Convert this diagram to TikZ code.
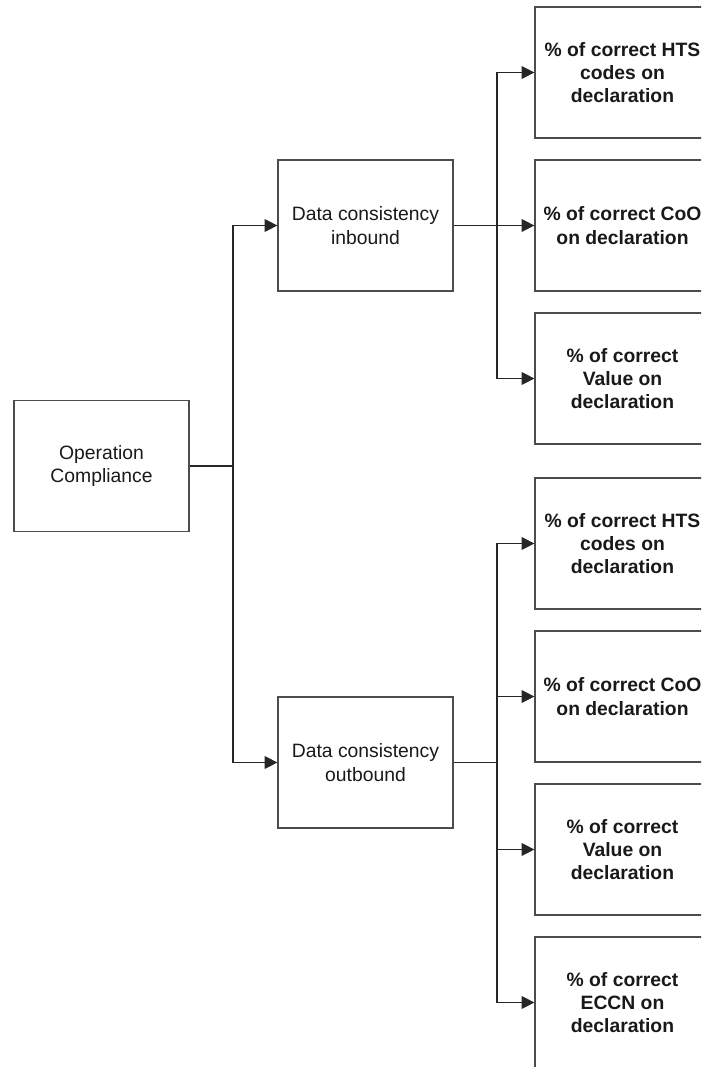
\documentclass[tikz,border=0pt]{standalone}
\usepackage{fontspec}
\setmainfont{Liberation Sans}
\usetikzlibrary{arrows.meta}

\begin{document}
\begin{tikzpicture}[x=0.75pt,y=-0.75pt,
  every node/.style={font=\fontsize{14.5}{17.5}\selectfont,text=black!90},
  box/.style={draw=black!70,line width=0.9pt,minimum width=131.25pt,
    minimum height=98.25pt,align=center,inner sep=0pt},
  kpi/.style={box,font=\fontsize{14.5}{17.5}\selectfont\bfseries},
  link/.style={draw=black!85,line width=0.9pt},
  arr/.style={link,-{Triangle[length=9.5pt,width=9.5pt]}}]
  \useasboundingbox (0,0) rectangle (701,1067);
  \clip (0,0) rectangle (701,1067);

  % Root and the two branches
  \node[box] (op) at (101.5,466) {Operation\\Compliance};
  \node[box] (inb) at (365.5,225.5) {Data consistency\\inbound};
  \node[box] (outb) at (365.5,762.5) {Data consistency\\outbound};

  % Inbound measures
  \node[kpi] (hts1) at (622.5,72.5) {\% of correct HTS\\codes on\\declaration};
  \node[kpi] (coo1) at (622.5,225.5) {\% of correct CoO\\on declaration};
  \node[kpi] (val1) at (622.5,378.5) {\% of correct\\Value on\\declaration};

  % Outbound measures
  \node[kpi] (hts2) at (622.5,543.5) {\% of correct HTS\\codes on\\declaration};
  \node[kpi] (coo2) at (622.5,696.5) {\% of correct CoO\\on declaration};
  \node[kpi] (val2) at (622.5,849.5) {\% of correct\\Value on\\declaration};
  \node[kpi] (eccn2) at (622.5,1002.5) {\% of correct\\ECCN on\\declaration};

  % Junctions on the vertical trunks
  \coordinate (jop) at (233,466);
  \coordinate (jin) at (497,225.5);
  \coordinate (jout) at (497,762.5);

  \draw[link] (op.east) -- (jop);
  \draw[arr] (jop) |- (inb.west);
  \draw[arr] (jop) |- (outb.west);

  \draw[arr] (inb.east) -- (coo1.west);
  \draw[arr] (jin) |- (hts1.west);
  \draw[arr] (jin) |- (val1.west);

  \draw[link] (outb.east) -- (jout);
  \draw[arr] (jout) |- (hts2.west);
  \draw[arr] (jout) |- (coo2.west);
  \draw[arr] (jout) |- (val2.west);
  \draw[arr] (jout) |- (eccn2.west);
\end{tikzpicture}
\end{document}
